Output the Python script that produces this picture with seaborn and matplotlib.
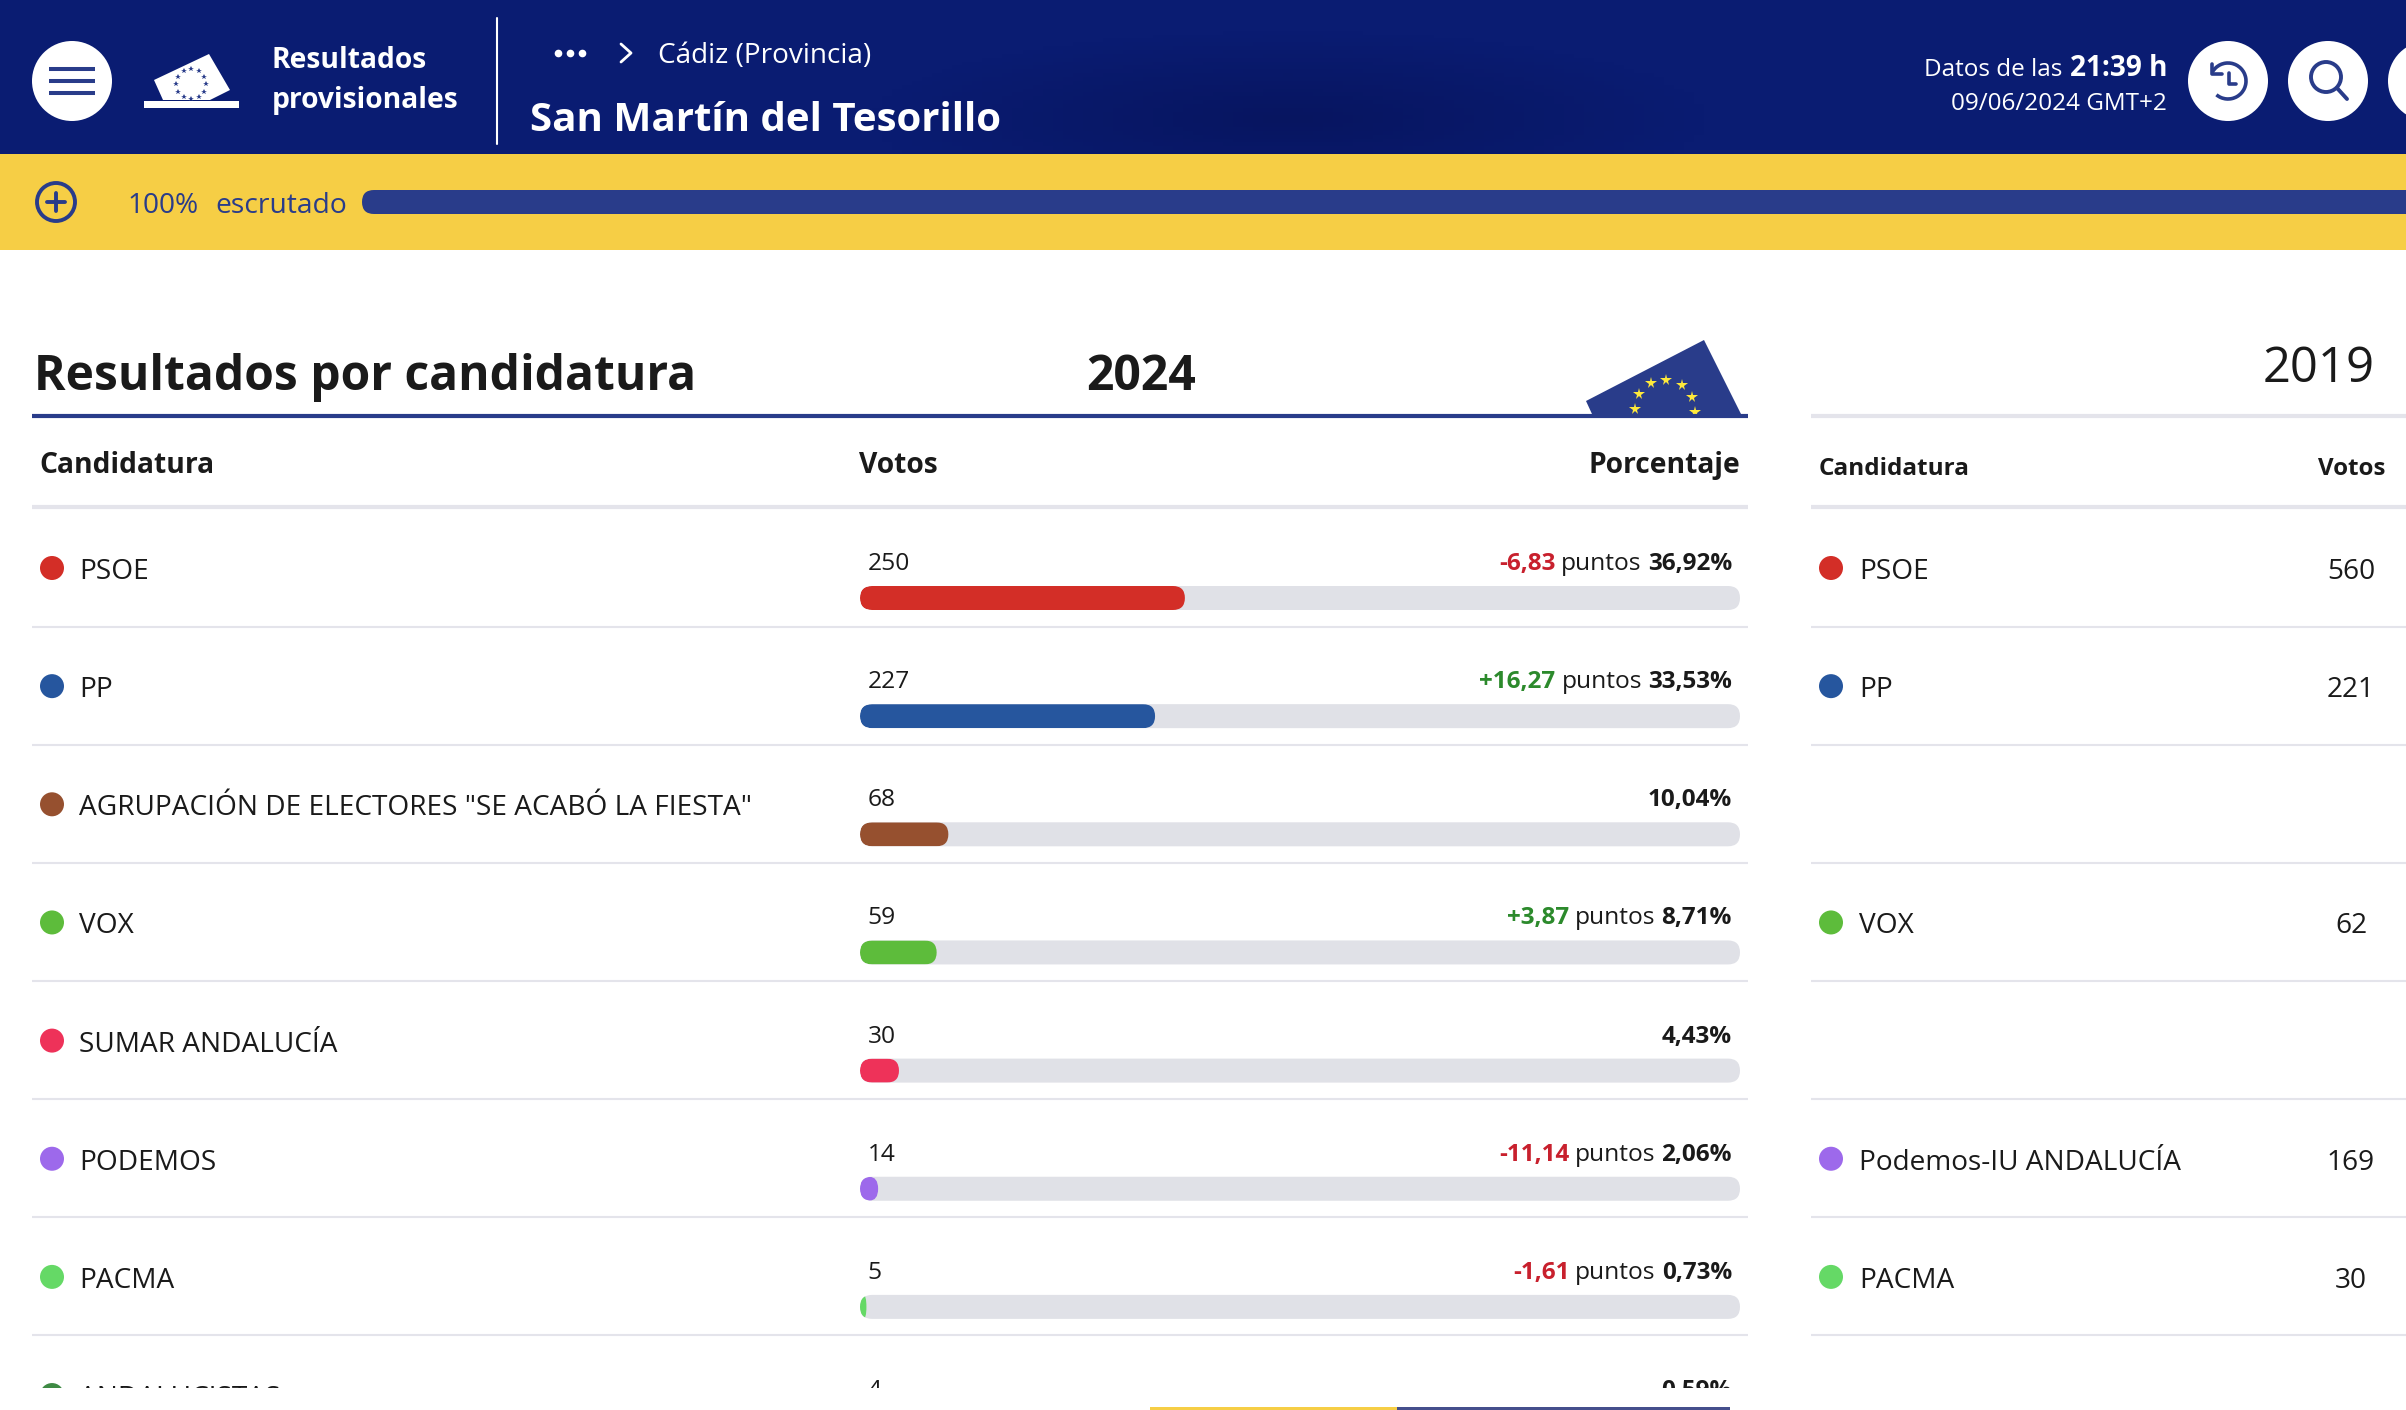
import numpy as np
import pandas as pd
import matplotlib
matplotlib.use("Agg")
import matplotlib.pyplot as plt
from matplotlib.patches import Rectangle, Circle, Polygon, FancyBboxPatch, Arc
from matplotlib.colors import LinearSegmentedColormap
import seaborn as sns

# ---------- data ----------
candidates = ["PSOE", "PP", 'AGRUPACIÓN DE ELECTORES "SE ACABÓ LA FIESTA"', "VOX",
              "SUMAR ANDALUCÍA", "PODEMOS", "PACMA", "ANDALUCISTAS"]
votes_2024 = [250, 227, 68, 59, 30, 14, 5, 4]
pct_2024 = [36.92, 33.53, 10.04, 8.71, 4.43, 2.06, 0.73, 0.59]
pct_text = ["36,92%", "33,53%", "10,04%", "8,71%", "4,43%", "2,06%", "0,73%", "0,59%"]
delta_text = ["-6,83", "+16,27", None, "+3,87", None, "-11,14", "-1,61", None]
colors = ["#D32E27", "#26569E", "#96502F", "#5DBC3B", "#EE3259", "#9D69EB", "#65D966", "#3E8A44"]
names_2019 = ["PSOE", "PP", None, "VOX", None, "Podemos-IU ANDALUCÍA", "PACMA", None]
votes_2019 = [560, 221, None, 62, None, 169, 30, None]
track_total = [100] * len(candidates)

NAVY = "#293C8A"; YELLOW = "#F6CE45"; INK = "#1A1A1A"; LINE = "#E4E4EB"; TRACK = "#E0E1E7"
RED = "#C8202D"; GREEN = "#2C8A2C"

W, H = 2406, 1410
sns.set_theme(style="white")
plt.rcParams["font.family"] = ["Open Sans", "DejaVu Sans"]
fig = plt.figure(figsize=(W / 100, H / 100), dpi=100, facecolor="white")

bg = fig.add_axes([0, 0, 1, 1], zorder=0)
bg.set_xlim(0, W); bg.set_ylim(H, 0); bg.axis("off")

def px(size):
    return size * 0.72

def T(x, y, s, size, weight="normal", color=INK, ha="left", ax=bg):
    return ax.text(x, y, s, fontsize=px(size), fontweight=weight, color=color, ha=ha, va="baseline", zorder=6)

def right_run(xr, y, parts, gap=8):
    r = fig.canvas.get_renderer()
    x = xr
    for s, size, weight, color in reversed(parts):
        t = T(x, y, s, size, weight, color, ha="right")
        x = t.get_window_extent(r).x0 - gap

# ---------- header ----------
cmap = LinearSegmentedColormap.from_list("h", ["#071560", "#0A1C72"])
yy, xx = np.mgrid[0:154:40j, 0:2406:240j]
grad = np.clip(np.hypot((xx - 1290) / 420, (yy - 120) / 90), 0, 1)
bg.imshow(grad, extent=(0, W, 154, 0), cmap=cmap, aspect="auto", zorder=1, vmin=0, vmax=1)
bg.set_xlim(0, W); bg.set_ylim(H, 0)
bg.add_patch(Rectangle((0, 154), W, 96, fc=YELLOW, ec="none", zorder=1))

for cx in (72, 2228, 2328, 2428):
    bg.add_patch(Circle((cx, 81), 40, fc="white", ec="none", zorder=2))
for y in (69, 81, 93):
    bg.plot([49, 95], [y, y], color=NAVY, lw=2.9, solid_capstyle="butt", zorder=3)

# ballot icon
bg.add_patch(Polygon([(154, 80), (209, 54), (230, 90), (210, 100), (163, 100)], fc="white", ec="none", zorder=2))
bg.add_patch(Rectangle((144, 101), 95, 6.5, fc="white", ec="none", zorder=2))
ang = np.linspace(0, 2 * np.pi, 13)[:-1]
bg.plot(191 + 15 * np.cos(ang), 84 + 15 * np.sin(ang), ls="none", marker="*", ms=4, color=NAVY, mew=0, zorder=3)

T(272, 68, "Resultados", 28.2, "bold", "white")
T(272, 108, "provisionales", 28.2, "bold", "white")
bg.plot([497, 497], [18, 144], color="white", lw=1.5, zorder=3)
bg.plot([558, 570, 582], [53, 53, 53], ls="none", marker="o", ms=5.5, color="white", mew=0, zorder=3)
bg.plot([621, 631, 621], [44, 53, 62], color="white", lw=2, zorder=3)
T(658, 63, "Cádiz (Provincia)", 28, "normal", "white")
T(530, 131, "San Martín del Tesorillo", 40.2, "bold", "white")
right_run(2167, 76, [("Datos de las", 24.2, "normal", "white"), ("21:39 h", 28, "bold", "white")], gap=7)
T(2167, 110, "09/06/2024 GMT+2", 24.2, "normal", "white", ha="right")

# clock icon
bg.add_patch(Arc((2228, 81), 36, 36, theta1=-150, theta2=130, ec=NAVY, lw=2.6, zorder=3))
bg.plot([2212, 2212, 2222], [64, 74, 74], color=NAVY, lw=2.6, zorder=3)
bg.plot([2229, 2229, 2236], [73, 84, 84], color=NAVY, lw=2.6, zorder=3)
# search icon
bg.add_patch(Circle((2326, 77), 15, fc="none", ec=NAVY, lw=2.8, zorder=3))
bg.plot([2337, 2347], [88, 99], color=NAVY, lw=2.8, zorder=3, solid_capstyle="round")

# progress strip
bg.add_patch(Circle((56, 202), 19, fc="none", ec=NAVY, lw=2.8, zorder=3))
bg.plot([47, 65], [202, 202], color=NAVY, lw=2.8, zorder=3)
bg.plot([56, 56], [193, 211], color=NAVY, lw=2.8, zorder=3)
T(127, 213, "100%", 28, "normal", NAVY)
T(215, 213, "escrutado", 28.2, "normal", NAVY)
bg.add_patch(FancyBboxPatch((362, 190), 2200, 24, boxstyle="round,pad=0,rounding_size=12", fc=NAVY, ec="none", zorder=3))

# ---------- headings ----------
T(34, 390, "Resultados por candidatura", 48, "bold")
T(1141, 390, "2024", 48, "bold", ha="center")
T(2375, 382, "2019", 49, "normal", ha="right")
bg.add_patch(Polygon([(1586, 401), (1704, 340), (1741, 414), (1592, 414)], fc=NAVY, ec="none", zorder=2))
flag_clip = Rectangle((1500, 330), 300, 84, transform=bg.transData)
st = bg.plot([1635, 1639, 1651, 1666, 1682, 1692, 1695], [409, 394, 383, 380, 385, 397, 412],
             ls="none", marker="*", ms=8.5, color="#FFE93B", mew=0, zorder=3)[0]
st.set_clip_path(flag_clip)
bg.plot([32, 1748], [416, 416], color=NAVY, lw=3, solid_capstyle="butt", zorder=3)
bg.plot([1811, W], [416, 416], color=LINE, lw=3, solid_capstyle="butt", zorder=3)

T(39, 473, "Candidatura", 28.2, "bold")
T(859, 473, "Votos", 28.2, "bold")
T(1740, 473, "Porcentaje", 28.2, "bold", ha="right")
T(1819, 475, "Candidatura", 24.2, "bold")
T(2385, 475, "Votos", 24, "bold", ha="right")
bg.plot([32, 1748], [507, 507], color=LINE, lw=3, solid_capstyle="butt", zorder=3)
bg.plot([1811, W], [507, 507], color=LINE, lw=3, solid_capstyle="butt", zorder=3)

# ---------- rows ----------
ROW = 118.15
for i, name in enumerate(candidates):
    mid = 568 + i * ROW
    sep = 626.5 + i * ROW
    if i < 7:
        bg.plot([32, 1748], [sep, sep], color=LINE, lw=1.5, solid_capstyle="butt", zorder=3)
        bg.plot([1811, W], [sep, sep], color=LINE, lw=1.5, solid_capstyle="butt", zorder=3)
    bg.add_patch(Circle((52, mid), 12, fc=colors[i], ec="none", zorder=3))
    T(79, mid + 11, name, 28)
    T(867.5, mid + 2, str(votes_2024[i]), 24.5)
    parts = []
    if delta_text[i]:
        parts += [(delta_text[i], 24.2, "bold", RED if delta_text[i][0] == "-" else GREEN),
                  ("puntos", 24.5, "normal", INK)]
    parts.append((pct_text[i], 24.2, "bold", INK))
    right_run(1732, mid + 2, parts, gap=6)
    if names_2019[i]:
        bg.add_patch(Circle((1831, mid), 12, fc=colors[i], ec="none", zorder=3))
        T(1859, mid + 11, names_2019[i], 28)
        T(2351, mid + 11, str(votes_2019[i]), 28, ha="center")

# ---------- bars ----------
df = pd.DataFrame({"cand": candidates, "pct": pct_2024, "track": track_total})
n = len(candidates)
top_px = 598 - ROW / 2
bot_px = top_px + n * ROW
ax = fig.add_axes([860 / W, 1 - bot_px / H, 880 / W, (bot_px - top_px) / H], zorder=2)
ax.patch.set_alpha(0)
bar_w = 24 / ROW
sns.barplot(data=df, x="track", y="cand", color=TRACK, width=bar_w, ax=ax, orient="h", saturation=1)
sns.barplot(data=df, x="pct", y="cand", hue="cand", palette=colors, width=bar_w, dodge=False,
            legend=False, ax=ax, orient="h", saturation=1)
ax.set_xlim(0, 100); ax.set_ylim(n - 0.5, -0.5); ax.axis("off")

rects = list(ax.patches)
tracks, fills = rects[:n], rects[n:]
x_per_px = 100 / 880
radius = 12 * x_per_px
y_radius = 12 / ROW
tp = []
for r in tracks:
    p = FancyBboxPatch((r.get_x(), r.get_y()), r.get_width(), r.get_height(),
                       boxstyle=f"round,pad=0,rounding_size={radius}", mutation_aspect=y_radius / radius,
                       fc=TRACK, ec="none", zorder=2)
    ax.add_patch(p); tp.append(p); r.set_visible(False)
for r, t in zip(fills, tp):
    w = r.get_width()
    rs = min(radius, w / 2)
    p = FancyBboxPatch((r.get_x(), r.get_y()), w, r.get_height(),
                       boxstyle=f"round,pad=0,rounding_size={rs}", mutation_aspect=y_radius / rs,
                       fc=r.get_facecolor(), ec="none", zorder=3)
    ax.add_patch(p); p.set_clip_path(t); r.set_visible(False)

# ---------- bottom cut-off of the page ----------
top = fig.add_axes([0, 0, 1, 1], zorder=5)
top.set_xlim(0, W); top.set_ylim(H, 0); top.axis("off"); top.patch.set_alpha(0)
top.add_patch(Rectangle((0, 1388), W, 22, fc="white", ec="none"))
top.add_patch(Rectangle((1150, 1407), 247, 3, fc=YELLOW, ec="none"))
top.add_patch(Rectangle((1397, 1407), 333, 3, fc="#454F8C", ec="none"))

fig.savefig("out.png", dpi=100, facecolor="white")
